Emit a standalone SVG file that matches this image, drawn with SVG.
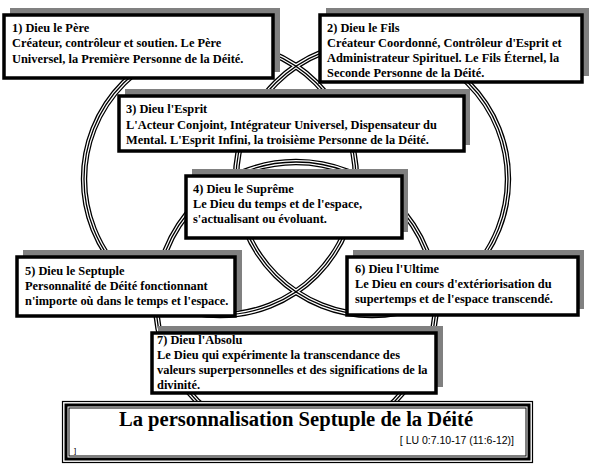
<svg xmlns="http://www.w3.org/2000/svg" width="596" height="475" viewBox="0 0 596 475">
<style>
.bg{fill:#fff}
.r1{fill:none;stroke:#000;stroke-width:6.4}
.r2{fill:none;stroke:#fff;stroke-width:3.8}
.r3{fill:none;stroke:#000;stroke-width:1.3}
.sh{fill:#808080}
.bx{fill:#fff}
.bd{fill:none;stroke:#000;stroke-width:3.5}
.t{font-family:"Liberation Serif","Times New Roman",serif;font-weight:bold;font-size:12.4px;fill:#000}
.ttl{font-family:"Liberation Serif","Times New Roman",serif;font-weight:bold;font-size:20.6px;fill:#000}
.ref{font-family:"Liberation Sans",Arial,sans-serif;font-size:10.5px;fill:#000}
.tb1{fill:none;stroke:#000;stroke-width:1.2}
.tb2{fill:none;stroke:#000;stroke-width:3}
</style>
<rect class="bg" x="0" y="0" width="596" height="475"/>
<g id="venn">
  <circle class="r1" cx="220" cy="179" r="136"/>
  <circle class="r1" cx="372" cy="179" r="136"/>
  <circle class="r1" cx="296" cy="302" r="140"/>
  <circle class="r2" cx="220" cy="179" r="136"/>
  <circle class="r2" cx="372" cy="179" r="136"/>
  <circle class="r2" cx="296" cy="302" r="140"/>
  <circle class="r3" cx="220" cy="179" r="136"/>
  <circle class="r3" cx="372" cy="179" r="136"/>
  <circle class="r3" cx="296" cy="302" r="140"/>
</g>
<g id="node1">
  <rect class="sh" x="10" y="8" width="270" height="64"/>
  <rect class="bx" x="4" y="15" width="269" height="63"/>
  <text class="t" x="12" y="32">1) Dieu le Père</text>
  <text class="t" x="12" y="47.3">Créateur, contrôleur et soutien. Le Père</text>
  <text class="t" x="12" y="62.6">Universel, la Première Personne de la Déité.</text>
  <rect class="bd" x="4" y="15" width="269" height="63"/>
</g>
<g id="node2">
  <rect class="sh" x="326" y="8" width="263" height="68"/>
  <rect class="bx" x="320" y="15" width="262" height="67"/>
  <text class="t" x="327" y="32">2) Dieu le Fils</text>
  <text class="t" x="327" y="47.2">Créateur Coordonné, Contrôleur d'Esprit et</text>
  <text class="t" x="327" y="62.4">Administrateur Spirituel. Le Fils Éternel, la</text>
  <text class="t" x="327" y="77.4">Seconde Personne de la Déité.</text>
  <rect class="bd" x="320" y="15" width="262" height="67"/>
</g>
<g id="node3">
  <rect class="sh" x="125" y="89" width="345" height="56"/>
  <rect class="bx" x="119" y="96" width="345" height="55"/>
  <text class="t" x="126" y="113">3) Dieu l'Esprit</text>
  <text class="t" x="126" y="128.5">L'Acteur Conjoint, Intégrateur Universel, Dispensateur du</text>
  <text class="t" x="126" y="143.5">Mental. L'Esprit Infini, la troisième Personne de la Déité.</text>
  <rect class="bd" x="119" y="96" width="345" height="55"/>
</g>
<g id="node4">
  <rect class="sh" x="192" y="169" width="216" height="63"/>
  <rect class="bx" x="186" y="176" width="216" height="62"/>
  <text class="t" x="193" y="192.5">4) Dieu le Suprême</text>
  <text class="t" x="193" y="208">Le Dieu du temps et de l'espace,</text>
  <text class="t" x="193" y="223">s'actualisant ou évoluant.</text>
  <rect class="bd" x="186" y="176" width="216" height="62"/>
</g>
<g id="node5">
  <rect class="sh" x="23" y="250" width="219" height="60"/>
  <rect class="bx" x="17" y="257" width="218" height="59"/>
  <text class="t" x="25" y="275">5) Dieu le Septuple</text>
  <text class="t" x="25" y="289.5">Personnalité de Déité fonctionnant</text>
  <text class="t" x="25" y="304.5">n'importe où dans le temps et l'espace.</text>
  <rect class="bd" x="17" y="257" width="218" height="59"/>
</g>
<g id="node6">
  <rect class="sh" x="353" y="250" width="231" height="59"/>
  <rect class="bx" x="347" y="257" width="231" height="58"/>
  <text class="t" x="355" y="273">6) Dieu l'Ultime</text>
  <text class="t" x="355" y="288">Le Dieu en cours d'extériorisation du</text>
  <text class="t" x="355" y="303">supertemps et de l'espace transcendé.</text>
  <rect class="bd" x="347" y="257" width="231" height="58"/>
</g>
<g id="node7">
  <rect class="sh" x="158" y="326" width="285" height="61"/>
  <rect class="bx" x="152" y="333" width="284" height="60"/>
  <text class="t" x="157" y="344">7) Dieu l'Absolu</text>
  <text class="t" x="157" y="359">Le Dieu qui expérimente la transcendance des</text>
  <text class="t" x="157" y="374">valeurs superpersonnelles et des significations de la</text>
  <text class="t" x="157" y="389">divinité.</text>
  <rect class="bd" x="152" y="333" width="284" height="60"/>
</g>
<g id="title">
  <rect class="bx" x="62" y="401" width="471" height="62"/>
  <rect class="tb1" x="62.5" y="401.5" width="470" height="61"/>
  <rect class="tb2" x="66" y="405" width="463" height="54"/>
  <rect class="tb1" x="69" y="408" width="457" height="48" style="stroke-width:1"/>
  <text class="ttl" x="296" y="426" text-anchor="middle">La personnalisation Septuple de la Déité</text>
  <text class="ref" x="514" y="444" text-anchor="end">[ LU 0:7.10-17 (11:6-12)]</text>
  <text class="ref" x="74" y="453" style="font-size:8px">]</text>
</g>
</svg>
